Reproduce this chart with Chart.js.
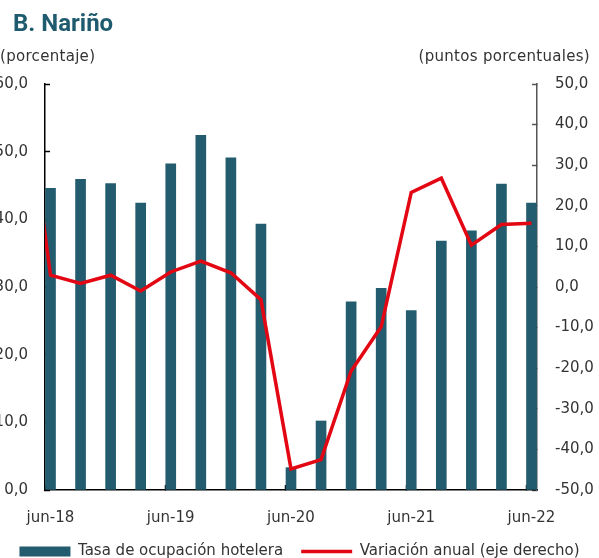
<!DOCTYPE html>
<html>
<head>
<meta charset="utf-8">
<script src="https://cdn.jsdelivr.net/npm/chart.js@4"></script>
<style>
  html, body { margin: 0; padding: 0; background: #fff; }
  #wrap { position: relative; width: 599px; height: 558px; overflow: hidden; }
  #c { position: absolute; left: 0; top: 0; }
  .title { position: absolute; left: 13px; top: 11px; font: bold 24px/24px Roboto, sans-serif; color: #1f5b6e; }
  .unit { position: absolute; top: 49px; font: 15px/15px "DejaVu Sans", sans-serif; color: #333; white-space: nowrap; letter-spacing: 0.3px; }
</style>
</head>
<body>
<div id="wrap">
  <canvas id="c" width="599" height="569"></canvas>
  <div class="title">B. Nariño</div>
  <div class="unit" style="left:0">(porcentaje)</div>
  <div class="unit" style="right:9px">(puntos porcentuales)</div>
</div>
<script>
// trimestres jun-18 .. jun-22
const periodos = ['jun-18','sep-18','dic-18','mar-19','jun-19','sep-19','dic-19','mar-20',
                  'jun-20','sep-20','dic-20','mar-21','jun-21','sep-21','dic-21','mar-22','jun-22'];
const tasaOcupacion = [44.6, 45.9, 45.3, 42.4, 48.2, 52.4, 49.1, 39.3,
                       3.3, 10.2, 27.8, 29.8, 26.5, 36.8, 38.3, 45.2, 42.4];
const variacionAnual = [2.9, 0.9, 2.9, -1.0, 3.7, 6.4, 3.5, -3.1,
                        -44.8, -42.5, -20.7, -9.8, 23.3, 26.8, 10.3, 15.4, 15.7];
const variacionPrevia = 58.0; // mar-18, queda fuera del área (se recorta)
const etiquetasX = ['jun-18','jun-19','jun-20','jun-21','jun-22'];
const ticksIzq = [0, 10, 20, 30, 40, 50, 60];
const ticksDer = [-50, -40, -30, -20, -10, 0, 10, 20, 30, 40, 50];

const FONT = { family: '"DejaVu Sans", sans-serif', size: 15 };
const TXT = '#333333';
const fmt = v => Number(v).toFixed(1).replace('.', ',');

const barras = tasaOcupacion.map((v, i) => ({ x: i, y: v }));
const linea = [{ x: -1, y: variacionPrevia }].concat(variacionAnual.map((v, i) => ({ x: i, y: v })));

new Chart(document.getElementById('c'), {
  type: 'bar',
  data: {
    datasets: [
      {
        type: 'line', label: 'Variación anual (eje derecho)', data: linea, yAxisID: 'y2',
        borderColor: '#e30613', backgroundColor: '#e30613', borderWidth: 3.5,
        pointRadius: 0, tension: 0, clip: 0, order: 0
      },
      {
        type: 'bar', label: 'Tasa de ocupación hotelera', data: barras, yAxisID: 'y',
        backgroundColor: '#235c6e', barThickness: 10, order: 1
      }
    ]
  },
  options: {
    responsive: false,
    animation: false,
    layout: { padding: { top: 84, left: 0, right: 0, bottom: 0 } },
    plugins: {
      tooltip: { enabled: false },
      legend: {
        position: 'bottom',
        labels: {
          font: FONT, color: TXT, padding: 18,
          usePointStyle: true, pointStyleWidth: 51, boxHeight: 10,
          generateLabels(chart) {
            return [
              { text: 'Tasa de ocupación hotelera', pointStyle: 'rect', fillStyle: '#235c6e',
                strokeStyle: '#235c6e', lineWidth: 0, datasetIndex: 1, fontColor: TXT },
              { text: 'Variación anual (eje derecho)', pointStyle: 'line', strokeStyle: '#e30613',
                fillStyle: '#e30613', lineWidth: 3.5, datasetIndex: 0, fontColor: TXT }
            ];
          }
        }
      }
    },
    scales: {
      x: {
        type: 'linear', min: -0.183, max: 16.183, offset: false,
        afterBuildTicks(s) {
          s.ticks = etiquetasX.map(l => ({ value: periodos.indexOf(l) - 0.17 }));
        },
        afterFit(s) { s.height = 36; s.paddingLeft = 0; s.paddingRight = 0; },
        ticks: {
          font: FONT, color: TXT, padding: 24, labelOffset: 5, maxRotation: 0, autoSkip: false,
          callback: v => periodos[Math.round(v + 0.17)]
        },
        grid: { offset: false, drawOnChartArea: false, drawTicks: true, tickLength: -5, tickColor: '#000', tickWidth: 1.5 },
        border: { display: true, color: '#000', width: 1.5 }
      },
      y: {
        position: 'left', min: 0, max: 60,
        afterBuildTicks(s) { s.ticks = ticksIzq.map(v => ({ value: v })); },
        afterFit(s) { s.width = 45; },
        ticks: { font: FONT, color: TXT, padding: 22, callback: fmt },
        grid: { drawOnChartArea: false, drawTicks: true, tickLength: -5, tickColor: '#000', tickWidth: 1.5 },
        border: { display: true, color: '#000', width: 1.5 }
      },
      y2: {
        position: 'right', min: -50, max: 50,
        afterBuildTicks(s) { s.ticks = ticksDer.map(v => ({ value: v })); },
        afterFit(s) { s.width = 62; },
        ticks: { font: FONT, color: TXT, padding: 23, callback: fmt },
        grid: { drawOnChartArea: false, drawTicks: true, tickLength: -5, tickColor: '#555', tickWidth: 1.5 },
        border: { display: true, color: '#555', width: 1.5 }
      }
    }
  }
});
</script>
</body>
</html>
